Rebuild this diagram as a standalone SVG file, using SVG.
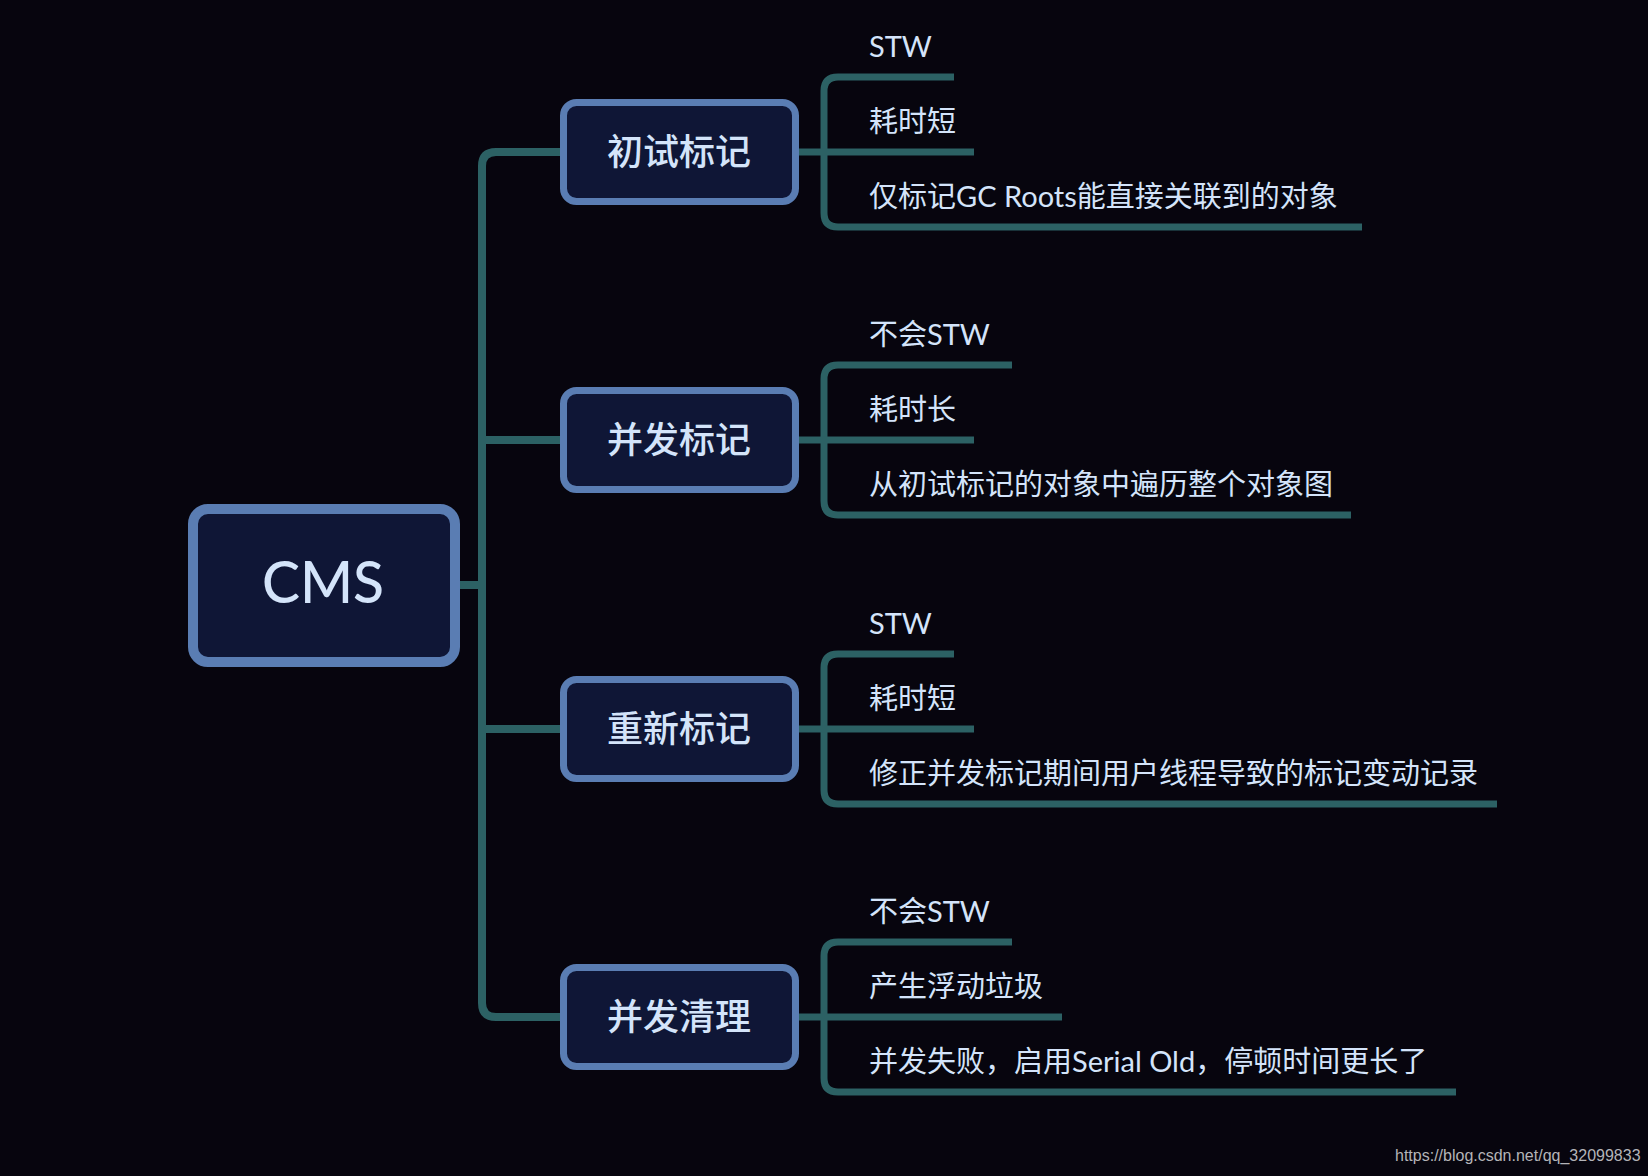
<svg xmlns="http://www.w3.org/2000/svg" width="1648" height="1176" viewBox="0 0 1648 1176">
<style>
.main{fill:none;stroke:#2c6164;stroke-width:8;stroke-linecap:butt}
.sub{fill:none;stroke:#2c6164;stroke-width:7;stroke-linecap:butt}
.box{fill:#0f1636;stroke:#5a7db3;stroke-width:7}
.root{fill:#0f1636;stroke:#5a7db3;stroke-width:10}
.bt{font-family:"Noto Sans CJK SC","Noto Sans",sans-serif;font-weight:500;font-size:36px;fill:#d4e4fa;text-anchor:middle;dominant-baseline:central}
.rt{font-family:Lato,"Noto Sans",sans-serif;font-weight:500;font-size:57px;fill:#d4e4fa;text-anchor:middle}
.st{font-family:Lato,"Noto Sans CJK SC",sans-serif;font-size:29px;fill:#d4e4fa}
.wm{font-family:"Liberation Sans",Arial,sans-serif;font-size:16px;fill:#b4b4b8}
</style>
<rect width="1648" height="1176" fill="#07050e"/>
<g id="connectors">
<path class="main" d="M460 585 H482"/>
<path class="main" d="M560 152 H496 Q482 152 482 166 V1003 Q482 1017 496 1017 H560"/>
<path class="main" d="M482 440 H560"/>
<path class="main" d="M482 729 H560"/>
<path class="sub" d="M954 77 H838 Q824 77 824 91 V213 Q824 227 838 227 H1362"/>
<path class="sub" d="M799 152 H974"/>
<path class="sub" d="M1012 365 H838 Q824 365 824 379 V501 Q824 515 838 515 H1351"/>
<path class="sub" d="M799 440 H974"/>
<path class="sub" d="M954 654 H838 Q824 654 824 668 V790 Q824 804 838 804 H1497"/>
<path class="sub" d="M799 729 H974"/>
<path class="sub" d="M1012 942 H838 Q824 942 824 956 V1078 Q824 1092 838 1092 H1456"/>
<path class="sub" d="M799 1017 H1062"/>
</g>
<g id="root">
<rect class="root" x="193" y="509" width="262" height="153" rx="15"/>
<text class="rt" x="323" y="603">CMS</text>
</g>
<g id="n1">
<rect class="box" x="563.5" y="102.5" width="232" height="99" rx="13"/>
<text class="bt" x="679" y="149">初试标记</text>
</g>
<g id="n2">
<rect class="box" x="563.5" y="390.5" width="232" height="99" rx="13"/>
<text class="bt" x="679" y="437">并发标记</text>
</g>
<g id="n3">
<rect class="box" x="563.5" y="679.5" width="232" height="99" rx="13"/>
<text class="bt" x="679" y="726">重新标记</text>
</g>
<g id="n4">
<rect class="box" x="563.5" y="967.5" width="232" height="99" rx="13"/>
<text class="bt" x="679" y="1014">并发清理</text>
</g>
<g id="leaves">
<text class="st" x="869" y="57">STW</text>
<text class="st" x="869" y="132">耗时短</text>
<text class="st" x="869" y="207">仅标记GC Roots能直接关联到的对象</text>
<text class="st" x="869" y="345">不会STW</text>
<text class="st" x="869" y="420">耗时长</text>
<text class="st" x="869" y="495">从初试标记的对象中遍历整个对象图</text>
<text class="st" x="869" y="634">STW</text>
<text class="st" x="869" y="709">耗时短</text>
<text class="st" x="869" y="784">修正并发标记期间用户线程导致的标记变动记录</text>
<text class="st" x="869" y="922">不会STW</text>
<text class="st" x="869" y="997">产生浮动垃圾</text>
<text class="st" x="869" y="1072">并发失败，启用Serial Old，停顿时间更长了</text>
</g>
<text class="wm" x="1395" y="1161">https://blog.csdn.net/qq_32099833</text>
</svg>
